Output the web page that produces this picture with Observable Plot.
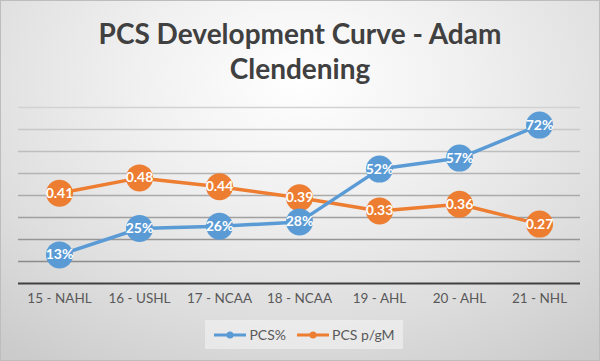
<!DOCTYPE html>
<html><head><meta charset="utf-8">
<script src="https://cdn.jsdelivr.net/npm/d3@7"></script>
<script src="https://cdn.jsdelivr.net/npm/@observablehq/plot@0.6"></script>
<style>
html,body{margin:0;padding:0;}
#chart{position:relative;width:600px;height:361px;overflow:hidden;font-family:Lato,"Open Sans",sans-serif;
  background:radial-gradient(ellipse 80% 95% at 50% 22%, #ffffff 0%, #f0f0f0 35%, #dedede 70%, #cbcbcb 100%);
  box-shadow:inset 0 0 0 1px #bdbdbd;}
#title{position:absolute;left:0;top:16px;width:600px;text-align:center;font-weight:bold;font-size:28px;line-height:35px;color:#404040;}
#plot{position:absolute;left:0;top:92px;}
#legend{position:absolute;left:205px;top:320px;width:198px;height:29px;background:rgba(245,245,245,0.55);display:flex;align-items:center;justify-content:center;gap:10px;font-size:14px;color:#595959;}
.item{display:flex;align-items:center;gap:2px;}
</style></head>
<body>
<div id="chart">
  <div id="title">PCS Development Curve - Adam<br>Clendening</div>
  <div id="plot"></div>
  <div id="legend"></div>
</div>
<script>
const categories = ["15 - NAHL","16 - USHL","17 - NCAA","18 - NCAA","19 - AHL","20 - AHL","21 - NHL"];
const pcsPct = [0.13,0.25,0.26,0.28,0.52,0.57,0.72];
const pcsPerGM = [0.41,0.48,0.44,0.39,0.33,0.36,0.27];
const gridTicks = [0.1,0.2,0.3,0.4,0.5,0.6,0.7,0.8];
const seriesNames = ["PCS%","PCS p/gM"];
const colors = ["#5B9BD5","#ED7D31"];

const pctRows = categories.map((c,i)=>({cat:c, v:pcsPct[i], label: Math.round(pcsPct[i]*100)+"%"}));
const gmRows = categories.map((c,i)=>({cat:c, v:pcsPerGM[i], label: pcsPerGM[i].toFixed(2)}));
const gridColor = d3.scaleLinear().domain([0.8,0.1]).range(["#d2d2d2","#8c8c8c"]);

const chart = Plot.plot({
  width:600, height:222,
  marginLeft:18, marginRight:20, marginTop:15, marginBottom:31,
  style:{background:"transparent", fontFamily:"Lato, 'Open Sans', sans-serif"},
  x:{type:"point", domain:categories, padding:0.5, label:null},
  y:{domain:[0,0.8], axis:null},
  marks:[
    Plot.ruleY(gridTicks, {y:d=>d, stroke:d=>gridColor(d), strokeWidth:1.3}),
    Plot.ruleY([0], {stroke:"#404040", strokeWidth:2.2}),
    Plot.axisX({tickSize:0, tickPadding:10, fontSize:13.5, color:"#595959", label:null}),
    Plot.lineY(gmRows, {x:"cat", y:"v", stroke:colors[1], strokeWidth:3.5}),
    Plot.lineY(pctRows, {x:"cat", y:"v", stroke:colors[0], strokeWidth:3.5}),
    Plot.dot(gmRows, {x:"cat", y:"v", r:13.5, fill:colors[1], stroke:null}),
    Plot.dot(pctRows, {x:"cat", y:"v", r:13.5, fill:colors[0], stroke:null}),
    Plot.text(gmRows, {x:"cat", y:"v", text:"label", fill:"white", fontWeight:"bold", fontSize:14}),
    Plot.text(pctRows, {x:"cat", y:"v", text:"label", fill:"white", fontWeight:"bold", fontSize:14})
  ]
});
document.getElementById("plot").appendChild(chart);

const legend = document.getElementById("legend");
seriesNames.forEach((name,i)=>{
  const item = document.createElement("div");
  item.className="item";
  item.innerHTML = `<svg width="34" height="10"><line x1="1" x2="33" y1="5" y2="5" stroke="${colors[i]}" stroke-width="3"/><circle cx="17" cy="5" r="3.5" fill="${colors[i]}"/></svg><span>${name}</span>`;
  legend.appendChild(item);
});
</script>
</body></html>
